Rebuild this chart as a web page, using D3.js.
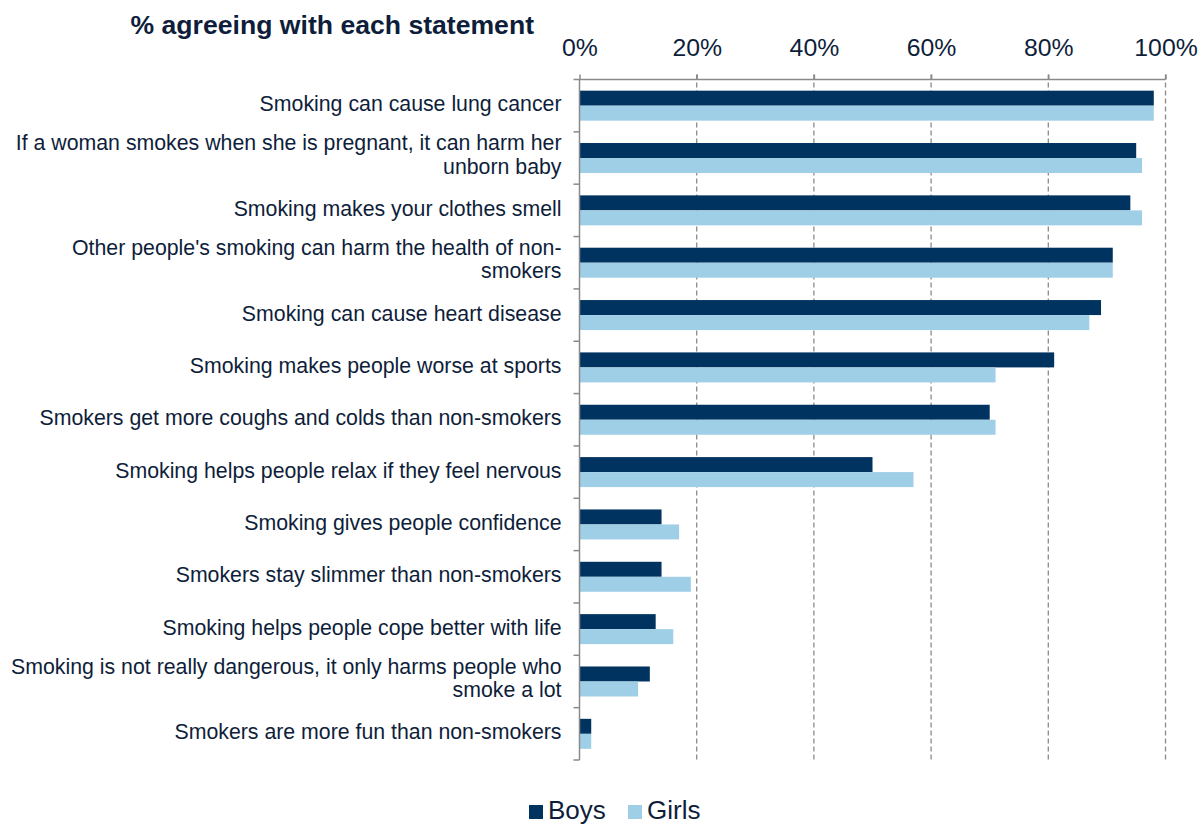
<!DOCTYPE html>
<html><head><meta charset="utf-8">
<script src="https://cdn.jsdelivr.net/npm/d3@7/dist/d3.min.js"></script>
<style>
body{margin:0;background:#fff;}
text{font-family:"Liberation Sans",Arial,sans-serif;fill:#0e1e3a;}
</style></head>
<body><svg id="chart" width="1201" height="826"></svg>
<script>
const categories = [
  "Smoking can cause lung cancer",
  "If a woman smokes when she is pregnant, it can harm her|unborn baby",
  "Smoking makes your clothes smell",
  "Other people's smoking can harm the health of non-|smokers",
  "Smoking can cause heart disease",
  "Smoking makes people worse at sports",
  "Smokers get more coughs and colds than non-smokers",
  "Smoking helps people relax if they feel nervous",
  "Smoking gives people confidence",
  "Smokers stay slimmer than non-smokers",
  "Smoking helps people cope better with life",
  "Smoking is not really dangerous, it only harms people who|smoke a lot",
  "Smokers are more fun than non-smokers"
];
const boys  = [98, 95, 94, 91, 89, 81, 70, 50, 14, 14, 13, 12, 2];
const girls = [98, 96, 96, 91, 87, 71, 71, 57, 17, 19, 16, 10, 2];
const seriesNames = ["Boys", "Girls"];
const seriesColors = ["#00335f", "#9fcfe7"];
const tickValues = [0, 20, 40, 60, 80, 100];
const title = "% agreeing with each statement";

const svg = d3.select("#chart");
const mLeft = 579.5, mRight = 1165.5, mTop = 79.5, mBottom = 760;
const x = d3.scaleLinear().domain([0, 100]).range([mLeft, mRight]);
const y = d3.scaleBand().domain(d3.range(categories.length)).range([mTop, mBottom]);
const inner = d3.scaleBand().domain(seriesNames).range([0, 30]);
const axisColor = "#8a8a8a";

// gridlines
svg.append("g").selectAll("line").data(tickValues.slice(1)).join("line")
  .attr("x1", d => x(d)).attr("x2", d => x(d))
  .attr("y1", mTop - 5).attr("y2", mBottom)
  .attr("stroke", axisColor).attr("stroke-width", 1.3).attr("stroke-dasharray", "5,3");

// bars
const rows = svg.append("g").selectAll("g").data(categories.map((c, i) => i)).join("g")
  .attr("transform", i => `translate(0,${y(i) + (y.bandwidth() - 30) / 2})`);
rows.append("rect").attr("x", x(0)).attr("y", inner("Boys"))
  .attr("width", i => x(boys[i]) - x(0)).attr("height", inner.bandwidth())
  .attr("fill", seriesColors[0]);
rows.append("rect").attr("x", x(0)).attr("y", inner("Girls"))
  .attr("width", i => x(girls[i]) - x(0)).attr("height", inner.bandwidth())
  .attr("fill", seriesColors[1]);

// top axis
const xAxis = d3.axisTop(x).tickValues(tickValues).tickFormat(d => d + "%").tickSize(5).tickPadding(19);
const gx = svg.append("g").attr("transform", `translate(0,${mTop})`).call(xAxis);
gx.select(".domain").attr("stroke", axisColor).attr("stroke-width", 1.5).attr("d", `M${mLeft - 6},0H${mRight}`);
gx.selectAll(".tick line").attr("stroke", axisColor).attr("stroke-width", 1.5);
gx.selectAll(".tick text").attr("font-size", 24.8).attr("fill", "#0e1e3a")
  .attr("font-family", "'Liberation Sans',Arial,sans-serif");

// left axis line with boundary ticks
svg.append("line").attr("x1", mLeft).attr("x2", mLeft).attr("y1", mTop).attr("y2", mBottom)
  .attr("stroke", axisColor).attr("stroke-width", 1.5);
const bounds = d3.range(categories.length + 1).map(i => i < categories.length ? y(i) : mBottom);
svg.append("g").selectAll("line").data(bounds.slice(1)).join("line")
  .attr("x1", mLeft - 6).attr("x2", mLeft).attr("y1", d => d).attr("y2", d => d)
  .attr("stroke", axisColor).attr("stroke-width", 1.5);

// category labels
const lab = svg.append("g").selectAll("text").data(categories.map((c, i) => i)).join("text")
  .attr("text-anchor", "end").attr("font-size", 21.3)
  .attr("x", mLeft - 18);
lab.each(function(i) {
  const lines = categories[i].split("|");
  const cy = y(i) + y.bandwidth() / 2;
  const lh = 23.5;
  const start = cy - (lines.length - 1) * lh / 2 + 5.5 - (lines.length - 1) * 1.5;
  d3.select(this).selectAll("tspan").data(lines).join("tspan")
    .attr("x", mLeft - 18).attr("y", (d, k) => start + k * lh).text(d => d);
});

// title
svg.append("text").attr("x", 534).attr("y", 34).attr("text-anchor", "end")
  .attr("font-size", 26.6).attr("font-weight", "bold").text(title);

// legend
const legX = [529, 628];
const leg = svg.append("g").selectAll("g").data(seriesNames).join("g")
  .attr("transform", (d, i) => `translate(${legX[i]},0)`);
leg.append("rect").attr("x", 0).attr("y", 805).attr("width", 14).attr("height", 14)
  .attr("fill", (d, i) => seriesColors[i]);
leg.append("text").attr("x", 19).attr("y", 819).attr("font-size", 26).text(d => d);
</script></body></html>
